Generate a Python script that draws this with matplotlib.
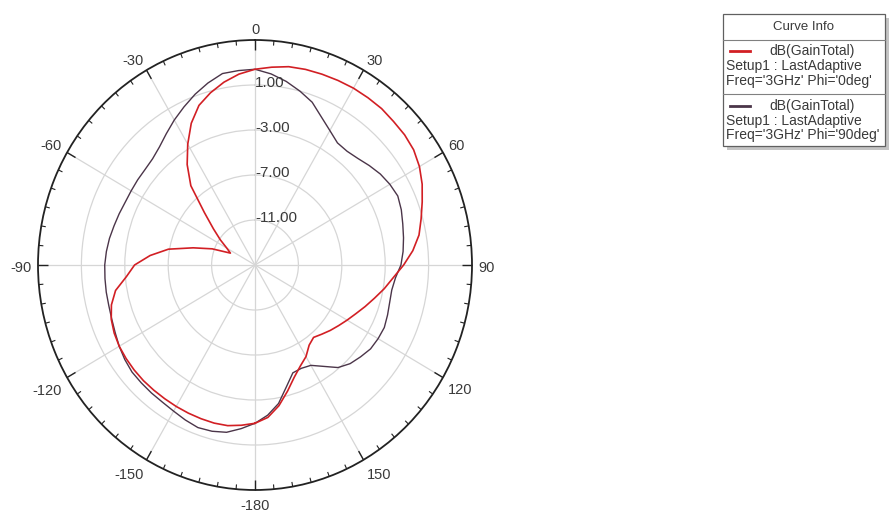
import numpy as np
import matplotlib
matplotlib.use('Agg')
import matplotlib.pyplot as plt
from matplotlib.patches import Rectangle
from matplotlib.lines import Line2D
import matplotlib.transforms as mtransforms

plt.rcParams['font.family'] = ['Liberation Sans', 'DejaVu Sans']

# ---------------- data ----------------
theta_deg = list(range(-180, 181, 5))

gain_phi0 = [
    -0.93, -0.70, -0.50, -0.45, -0.46, -0.47, -0.48, -0.49, -0.48, -0.46,
    -0.47, -0.50, -0.55, -0.68, -0.90, -1.30, -1.95, -3.10, -3.90, -5.30,
    -6.90, -9.10, -10.80, -12.50, -12.00, -11.10, -10.00, -8.40, -5.80, -4.10,
    -2.60, -1.10, 0.10, 0.85, 1.50, 2.03, 2.40, 2.65, 2.90, 3.00,
    3.05, 3.10, 3.15, 3.15, 3.15, 3.05, 3.00, 2.85, 2.50, 2.00,
    1.40, 0.85, 0.35, -0.40, -1.30, -2.20, -2.90, -3.60, -4.20, -4.75,
    -5.20, -5.60, -5.95, -6.30, -6.60, -6.30, -5.60, -5.10, -4.40, -3.40,
    -2.30, -1.40, -0.93,
]

gain_phi90 = [
    -0.93, -0.40, 0.10, 0.30, 0.38, 0.20, 0.00, -0.12, -0.15, -0.18,
    -0.20, -0.35, -0.55, -0.78, -0.95, -1.05, -1.08, -1.12, -1.15, -1.25,
    -1.38, -1.55, -1.68, -1.80, -1.82, -1.80, -1.78, -1.65, -1.30, -0.75,
    -0.12, 0.50, 1.15, 1.75, 2.28, 2.35, 2.40, 2.05, 1.57, 1.00,
    0.40, -0.50, -1.20, -1.75, -1.80, -1.60, -1.25, -0.90, -0.65, -0.48,
    -0.65, -0.90, -1.10, -1.30, -1.55, -2.00, -2.20, -2.15, -2.00, -1.85,
    -1.90, -2.00, -2.30, -2.60, -3.10, -4.00, -4.70, -4.87, -4.80, -3.80,
    -2.50, -1.60, -0.93,
]

r_ticks = [-11, -7, -3, 1]
r_tick_labels = ['-11.00', '-7.00', '-3.00', '1.00']
theta_ticks = [0, 30, 60, 90, 120, 150, 180, 210, 240, 270, 300, 330]
theta_tick_labels = ['0', '30', '60', '90', '120', '150', '-180', '-150',
                     '-120', '-90', '-60', '-30']

legend_title = 'Curve Info'
legend_entries = [
    ('dB(GainTotal)', 'Setup1 : LastAdaptive', "Freq='3GHz' Phi='0deg'"),
    ('dB(GainTotal)', 'Setup1 : LastAdaptive', "Freq='3GHz' Phi='90deg'"),
]

red = '#d21f24'
dark = '#4b3549'
txt = '#3a3a3a'

# ---------------- figure ----------------
W, H = 894, 516
fig = plt.figure(figsize=(W / 100, H / 100), dpi=100)
fig.patch.set_facecolor('white')

R_MIN, R_MAX = -15, 5
cx, cy, rx, ry = 255, 265, 217, 225
ax = fig.add_axes([(cx - rx) / W, (H - cy - ry) / H, 2 * rx / W, 2 * ry / H],
                  projection='polar')
ax.set_aspect('auto')
ax.set_theta_zero_location('N')
ax.set_theta_direction(-1)
ax.set_ylim(R_MIN, R_MAX)

ax.set_yticks(r_ticks)
ax.set_yticklabels([])
ax.set_xticks(np.deg2rad(theta_ticks))
ax.set_xticklabels([])
ax.tick_params(axis='both', length=0)
ax.grid(True, color='#d6d6d6', linewidth=0.9)
ax.spines['polar'].set_color('#222222')
ax.spines['polar'].set_linewidth(1.3)

# inward tick marks on the outer circle
for a in range(0, 360, 5):
    major = (a % 30 == 0)
    ln = 0.9 if major else 0.42
    ax.plot([np.deg2rad(a)] * 2, [R_MAX - ln, R_MAX], color='#222222',
            linewidth=1.0 if major else 0.8, clip_on=False, zorder=6,
            solid_capstyle='butt')

# angle labels outside the circle
pad = 6
for a, lab in zip(theta_ticks, theta_tick_labels):
    s, c = np.sin(np.deg2rad(a)), np.cos(np.deg2rad(a))
    ha = 'left' if s > 0.3 else ('right' if s < -0.3 else 'center')
    va = 'bottom' if c > 0.3 else ('top' if c < -0.3 else 'center')
    tr = ax.transData + mtransforms.Affine2D().translate(pad * s, pad * c - 3)
    ax.text(np.deg2rad(a), R_MAX, lab, transform=tr, ha=ha, va=va,
            fontsize=10.5, color=txt, clip_on=False)

th = np.deg2rad(theta_deg)
ax.plot(th, gain_phi90, color=dark, linewidth=1.0, zorder=3)
ax.plot(th, gain_phi0, color=red, linewidth=1.2, zorder=4)

off = mtransforms.offset_copy(ax.transData, fig=fig, x=0, y=2, units='dots')
for r, lab in zip(r_ticks, r_tick_labels):
    ax.text(0, r, lab, transform=off, ha='left', va='center', fontsize=11,
            color=txt, zorder=5)

# ---------------- legend box ----------------
lax = fig.add_axes([0, 0, 1, 1])
lax.set_xlim(0, W)
lax.set_ylim(H, 0)
lax.axis('off')

bx0, by0, bx1, by1 = 722.5, 14, 885, 146
lax.add_patch(Rectangle((bx0 + 4, by0 + 4), bx1 - bx0, by1 - by0,
                        facecolor='#c4c4c4', edgecolor='none'))
lax.add_patch(Rectangle((bx0, by0), bx1 - bx0, by1 - by0,
                        facecolor='white', edgecolor='#606060', linewidth=0.9))
for yy in (39.5, 93.5):
    lax.add_line(Line2D([bx0, bx1], [yy, yy], color='#808080', linewidth=0.8))
lax.text((bx0 + bx1) / 2, 27.5, legend_title, ha='center', va='center',
         fontsize=9.5, color=txt)

row_y = [51, 106]
colors = [red, dark]
for (l1, l2, l3), y0, c in zip(legend_entries, row_y, colors):
    lax.add_line(Line2D([730, 750], [y0, y0], color=c, linewidth=2.0))
    lax.text(769, y0, l1, ha='left', va='center', fontsize=10, color=txt)
    lax.text(726, y0 + 15, l2, ha='left', va='center', fontsize=10, color=txt)
    lax.text(726, y0 + 29.5, l3, ha='left', va='center', fontsize=10, color=txt)

fig.savefig('out.png', dpi=100)
